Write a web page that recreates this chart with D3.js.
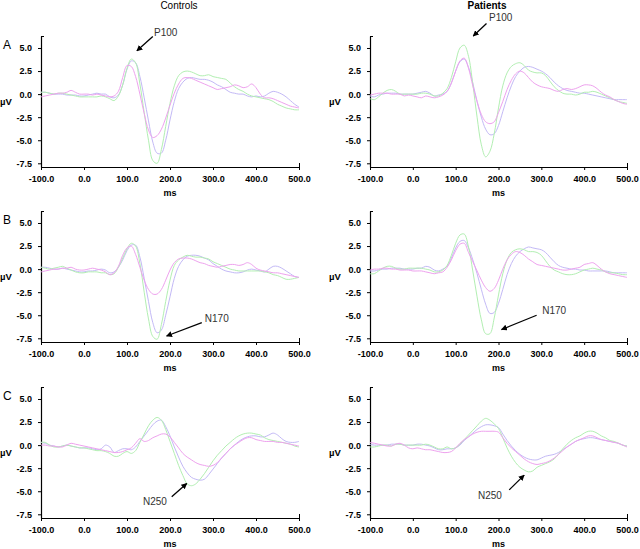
<!DOCTYPE html>
<html>
<head>
<meta charset="utf-8">
<script src="https://cdnjs.cloudflare.com/ajax/libs/d3/7.8.5/d3.min.js"></script>
<style>
  body { margin: 0; background: #fff; }
  svg { display: block; font-family: "Liberation Sans", Arial, sans-serif; }
  .tick text { font-size: 9px; font-weight: bold; fill: #000; }
  .domain, .tick line { stroke: #000; }
</style>
</head>
<body>
<script>
var width = 640;
var height = 549;

// time base (ms), one sample every 10 ms
var times = [-100,-90,-80,-70,-60,-50,-40,-30,-20,-10,
  0,10,20,30,40,50,60,70,80,90,
  100,110,120,130,140,150,160,170,180,190,
  200,210,220,230,240,250,260,270,280,290,
  300,310,320,330,340,350,360,370,380,390,
  400,410,420,430,440,450,460,470,480,490,
  500];

var xTicks = [-100, 0, 100, 200, 300, 400, 500];
var yTicks = [-7.5, -5, -2.5, 0, 2.5, 5];
var columnTitles = ['Controls', 'Patients'];
var rowLetters = ['A', 'B', 'C'];
var components = ['P100', 'N170', 'N250'];

// ---- row A (P100) ----
var ctlA_green = [0.2,0.2,0.1,0.0,0.1,0.1,0.0,-0.1,-0.2,-0.3, -0.3,-0.3,-0.3,-0.3,-0.2,-0.3,-0.5,-0.7,-0.2,1.0,
  2.8,3.8,3.4,1.1,-2.0,-5.0,-7.2,-7.5,-6.0,-3.5, -1.0,0.9,2.0,2.4,2.5,2.4,2.2,2.0,2.0,2.1,
  1.9,1.8,1.7,1.6,1.2,0.8,0.5,0.3,0.0,-0.2, -0.3,-0.4,-0.5,-0.6,-0.8,-1.1,-1.3,-1.5,-1.6,-1.7, -1.7];
var ctlA_violet = [0.2,0.2,0.1,0.0,0.0,0.0,-0.1,-0.1,-0.1,-0.2, -0.2,-0.1,0.0,0.1,0.0,0.0,-0.3,-0.4,-0.1,1.0,
  2.7,3.6,3.4,1.9,-0.4,-2.9,-5.2,-6.4,-6.4,-5.0, -2.8,-0.8,0.6,1.3,1.7,1.8,1.7,1.6,1.6,1.5,
  1.3,1.0,0.8,0.5,0.2,0.1,0.0,0.0,-0.2,-0.3, -0.2,-0.3,-0.2,0.1,0.3,0.2,0.0,-0.3,-0.7,-1.1, -1.4];
var ctlA_magenta = [-0.3,-0.2,-0.1,0.0,0.1,0.1,0.2,0.4,0.2,0.0, 0.0,0.0,-0.1,0.0,-0.1,-0.2,-0.3,-0.2,0.3,1.8,
  3.1,3.0,1.9,0.0,-2.1,-3.9,-4.7,-4.5,-3.8,-2.6, -1.2,0.1,1.1,1.7,1.8,1.7,1.5,1.3,1.1,0.9,
  0.7,0.5,0.6,0.7,0.8,1.0,0.9,0.7,0.8,1.1, 0.7,0.0,-0.4,-0.4,-0.5,-0.7,-0.9,-1.1,-1.3,-1.4, -1.5];

var patA_green = [-0.5,-0.6,-0.3,0.1,0.4,0.5,0.3,0.0,0.0,0.0, 0.0,0.0,0.1,0.1,0.0,-0.2,-0.2,0.1,0.6,1.8,
  3.5,5.0,5.3,4.1,1.1,-2.5,-5.5,-6.8,-6.2,-4.3, -1.5,0.9,2.3,3.0,3.3,3.4,3.1,2.6,2.4,2.3,
  2.3,2.0,1.4,0.8,0.4,0.1,0.0,0.0,-0.1,0.0, 0.2,0.2,0.3,0.2,0.0,-0.2,-0.4,-0.6,-0.8,-0.9, -1.0];
var patA_violet = [-0.2,-0.3,-0.1,0.0,0.1,0.1,0.1,0.0,0.0,0.0, 0.0,0.1,0.2,0.3,0.1,-0.2,-0.1,0.0,0.3,1.2,
  2.5,3.5,3.8,2.9,1.2,-0.8,-2.5,-3.8,-4.4,-4.3, -3.4,-1.9,-0.4,0.9,1.9,2.5,2.9,3.0,2.9,2.7,
  2.5,2.2,1.8,1.3,0.9,0.6,0.4,0.3,0.2,0.1, 0.1,0.0,-0.1,-0.2,-0.3,-0.4,-0.5,-0.6,-0.6,-0.6, -0.6];
var patA_magenta = [-0.1,0.0,0.1,0.1,0.1,0.0,0.0,0.0,-0.2,-0.1, -0.2,-0.3,-0.4,-0.2,-0.3,-0.4,-0.3,-0.1,0.3,1.2,
  2.5,3.6,3.9,2.8,0.9,-0.8,-2.2,-3.0,-3.2,-3.0, -2.0,-0.8,0.5,1.5,2.2,2.5,2.3,1.8,1.3,1.0,
  0.8,0.7,0.6,0.4,0.3,0.5,0.6,0.5,0.6,0.8, 1.0,1.0,0.9,0.6,0.2,-0.1,-0.3,-0.6,-0.8,-1.0, -1.1];

// ---- row B (N170) ----
var ctlB_green = [0.2,0.1,0.0,0.1,0.2,0.3,0.1,-0.1,-0.3,-0.4, -0.4,-0.3,-0.3,-0.3,-0.4,-0.4,-0.6,-0.5,0.2,1.2,
  2.2,2.8,2.5,0.6,-2.5,-5.4,-7.3,-7.6,-6.0,-3.5, -1.2,0.4,1.0,1.3,1.5,1.4,1.3,1.3,1.2,1.1,
  0.8,0.6,0.4,0.2,0.0,-0.1,-0.2,-0.2,-0.2,-0.2, -0.2,-0.2,-0.3,-0.4,-0.6,-0.7,-0.9,-1.1,-1.1,-1.0, -0.9];
var ctlB_violet = [0.2,0.2,0.1,0.0,0.0,0.1,0.0,-0.1,-0.2,-0.3, -0.3,-0.2,-0.2,-0.1,0.0,-0.1,-0.4,-0.3,0.2,1.0,
  2.0,2.6,2.6,1.3,-1.0,-3.5,-5.8,-6.9,-6.6,-5.0, -3.0,-1.0,0.3,1.0,1.4,1.5,1.5,1.4,1.2,1.0,
  0.6,0.3,0.0,-0.2,-0.3,-0.4,-0.4,-0.3,-0.1,0.0, -0.1,-0.2,-0.3,0.0,0.3,0.3,0.1,-0.2,-0.5,-0.8, -0.9];
var ctlB_magenta = [-0.3,-0.2,-0.1,0.0,0.0,0.1,0.1,0.2,0.0,-0.1, -0.1,0.0,0.1,0.0,-0.1,-0.3,-0.6,-0.4,0.3,1.5,
  2.3,2.5,1.6,0.2,-1.2,-2.2,-2.7,-2.7,-2.2,-1.2, -0.1,0.7,1.1,1.2,1.2,1.1,0.9,0.7,0.6,0.4,
  0.3,0.2,0.3,0.4,0.5,0.5,0.4,0.5,0.7,0.5, 0.1,-0.1,-0.2,-0.3,-0.4,-0.4,-0.5,-0.6,-0.7,-0.8, -0.9];

var patB_green = [-0.5,-0.5,-0.2,0.1,0.3,0.3,0.1,0.0,0.0,0.1, 0.1,0.1,0.1,0.0,-0.1,-0.3,-0.3,-0.1,0.4,1.5,
  2.8,3.7,3.8,2.4,-0.2,-3.0,-5.5,-7.0,-7.0,-5.3, -2.8,-0.5,1.0,1.8,2.1,2.2,2.1,1.9,1.9,1.8,
  1.5,0.9,0.3,-0.1,-0.3,-0.5,-0.6,-0.6,-0.5,-0.3, -0.1,0.0,0.1,0.0,-0.1,-0.3,-0.4,-0.4,-0.5,-0.6, -0.6];
var patB_violet = [-0.2,-0.2,-0.1,0.0,0.0,0.1,0.1,0.1,0.0,0.0, 0.0,0.1,0.1,0.3,0.2,-0.1,-0.2,0.0,0.3,1.2,
  2.3,3.0,3.1,2.3,1.0,-0.5,-2.2,-3.8,-4.8,-4.7, -3.7,-2.2,-0.6,0.6,1.4,1.9,2.2,2.4,2.3,2.2,
  2.1,1.8,1.3,0.8,0.4,0.2,0.1,0.0,0.0,-0.1, -0.1,-0.2,-0.2,-0.2,-0.2,-0.2,-0.3,-0.4,-0.4,-0.4, -0.4];
var patB_magenta = [-0.1,0.0,0.0,0.1,0.1,0.0,0.0,-0.1,-0.1,-0.1, -0.2,-0.2,-0.2,-0.3,-0.4,-0.5,-0.4,-0.3,0.2,1.0,
  2.0,2.7,2.8,1.8,0.8,-0.2,-1.2,-2.0,-2.4,-2.1, -1.2,0.0,1.0,1.6,1.9,1.8,1.5,1.1,0.8,0.5,
  0.4,0.3,0.2,0.1,0.0,-0.1,-0.1,0.0,0.1,0.2, 0.5,0.6,0.7,0.4,0.0,-0.3,-0.5,-0.6,-0.7,-0.8, -0.9];

// ---- row C (N250) ----
var ctlC_green = [0.3,0.3,0.0,-0.2,-0.2,-0.1,0.0,-0.1,-0.2,-0.3, -0.3,-0.4,-0.5,-0.6,-0.6,-0.7,-0.9,-1.2,-1.2,-0.9,
  -0.7,-0.9,-0.6,0.3,1.2,2.1,2.7,3.0,2.7,1.7, 0.4,-0.9,-2.2,-3.3,-4.2,-4.4,-4.2,-3.7,-3.1,-2.4,
  -1.7,-1.1,-0.6,-0.1,0.3,0.7,1.0,1.2,1.3,1.3, 1.2,1.1,0.8,0.6,0.5,0.4,0.3,0.2,0.1,-0.1, -0.2];
var ctlC_violet = [0.3,0.2,0.0,-0.1,-0.2,-0.1,0.0,-0.1,-0.2,-0.3, -0.3,-0.3,-0.4,-0.5,-0.4,0.0,-0.2,-0.8,-0.6,-0.4,
  -0.4,-0.5,-0.2,0.4,1.0,1.6,2.2,2.6,2.7,2.0, 1.0,-0.2,-1.3,-2.3,-3.0,-3.5,-3.7,-3.8,-3.7,-3.2,
  -2.6,-2.0,-1.4,-0.9,-0.4,0.0,0.4,0.7,0.9,1.0, 1.0,0.9,0.9,1.1,1.3,1.1,0.7,0.4,0.3,0.3, 0.4];
var ctlC_magenta = [0.0,0.0,-0.1,-0.1,-0.2,-0.2,0.0,0.2,0.1,0.0, -0.1,-0.2,-0.3,-0.4,-0.5,-0.6,-0.7,-0.8,-0.8,-0.7,
  -0.5,-0.3,0.2,0.7,0.4,0.5,0.8,1.0,1.2,1.2, 0.9,0.3,-0.3,-0.9,-1.3,-1.6,-1.9,-2.1,-2.2,-2.3,
  -2.2,-1.9,-1.4,-0.9,-0.4,0.0,0.3,0.6,0.8,0.8, 0.6,0.5,0.4,0.4,0.4,0.3,0.3,0.2,0.1,0.0, -0.1];

var patC_green = [-0.2,-0.2,-0.1,0.0,0.0,-0.1,0.1,0.1,0.0,0.0, 0.0,0.0,0.0,0.1,0.0,-0.2,-0.4,-0.4,-0.2,-0.4,
  -0.3,0.1,0.6,1.1,1.6,2.1,2.6,2.9,2.7,2.3, 1.8,0.8,-0.3,-1.2,-1.9,-2.4,-2.7,-2.9,-2.8,-2.4,
  -2.2,-2.0,-1.8,-1.5,-1.0,-0.4,0.1,0.5,0.8,1.0, 1.3,1.5,1.5,1.3,1.0,0.8,0.5,0.4,0.2,0.0, -0.1];
var patC_violet = [0.1,0.0,0.0,0.0,0.0,0.1,0.1,0.1,0.0,0.0, 0.0,0.1,0.1,0.0,-0.1,-0.3,-0.5,-0.5,-0.4,-0.4,
  -0.3,0.0,0.5,0.9,1.3,1.7,2.0,2.2,2.2,2.1, 1.9,1.2,0.5,-0.1,-0.6,-1.0,-1.3,-1.5,-1.6,-1.6,
  -1.4,-1.2,-1.1,-1.0,-0.8,-0.5,-0.2,0.1,0.4,0.6, 0.7,0.8,0.8,0.7,0.6,0.5,0.4,0.3,0.2,0.0, -0.1];
var patC_magenta = [0.3,0.2,0.1,0.0,-0.1,-0.1,0.1,0.2,0.0,-0.3, -0.4,-0.3,-0.4,-0.5,-0.5,-0.6,-0.7,-0.8,-0.8,-0.7,
  -0.3,0.2,0.6,0.9,1.2,1.4,1.5,1.5,1.5,1.5, 1.4,0.8,0.2,-0.3,-0.7,-1.1,-1.5,-1.8,-2.0,-2.1,
  -2.0,-1.9,-1.7,-1.4,-1.0,-0.6,-0.2,0.1,0.4,0.6, 0.8,1.0,1.0,0.8,0.6,0.5,0.4,0.3,0.2,0.0, -0.2];

var seriesColors = ['#c3b9f6', '#b2efb2', '#eea2ee'];   // violet, green, magenta

// panel layout: column x range, row top; annotation in data units (ms, uV)
var colRange = [[41, 299], [370, 627]];
var rowTop = [36, 211, 387];
var panelH = 131;

var panels = [
  { row: 0, col: 0, lines: [ctlA_violet, ctlA_green, ctlA_magenta], txt: [163, 6.3], arrow: [160, 6.25, 123, 4.7] },
  { row: 0, col: 1, lines: [patA_violet, patA_green, patA_magenta], txt: [178, 7.9], arrow: [172, 7.65, 141, 6.3] },
  { row: 1, col: 0, lines: [ctlB_violet, ctlB_green, ctlB_magenta], txt: [281, -5.75], arrow: [274, -5.8, 192, -7.25] },
  { row: 1, col: 1, lines: [patB_violet, patB_green, patB_magenta], txt: [302, -4.9], arrow: [289, -5.0, 207, -6.55] },
  { row: 2, col: 0, lines: [ctlC_violet, ctlC_green, ctlC_magenta], txt: [137, -6.45], arrow: [204, -5.6, 239, -4.15] },
  { row: 2, col: 1, lines: [patC_violet, patC_green, patC_magenta], txt: [152, -5.8], arrow: [225, -4.85, 260, -3.25] }
];

var svg = d3.select('body').append('svg')
  .attr('width', width)
  .attr('height', height);

svg.append('defs').append('marker')
  .attr('id', 'head')
  .attr('viewBox', '0 0 10 10')
  .attr('refX', 9).attr('refY', 5)
  .attr('markerWidth', 6).attr('markerHeight', 6)
  .attr('markerUnits', 'userSpaceOnUse')
  .attr('orient', 'auto')
  .append('path')
  .attr('d', 'M0,0L10,5L0,10z')
  .attr('fill', '#000');

// column titles
svg.selectAll('.coltitle')
  .data(columnTitles)
  .enter().append('text')
  .attr('class', 'coltitle')
  .attr('x', function(d, i) { return i == 0 ? 179 : 487; })
  .attr('y', 9)
  .attr('text-anchor', 'middle')
  .attr('font-size', '10px')
  .attr('font-weight', function(d, i) { return i == 0 ? 'normal' : 'bold'; })
  .text(function(d) { return d; });

var fmt = function(d) { return d.toFixed(1); };

panels.forEach(function(p) {
  var top = rowTop[p.row];
  var bottom = top + panelH;
  var x = d3.scaleLinear().domain([-100, 500]).range(colRange[p.col]);
  var y = d3.scaleLinear().domain([-7.9, 6.3]).range([bottom, top]);
  var x0 = colRange[p.col][0];

  var g = svg.append('g');

  // y axis
  var ya = g.append('g')
    .attr('transform', 'translate(' + x0 + ',0)')
    .call(d3.axisLeft(y).tickValues(yTicks).tickSize(3).tickSizeOuter(0).tickPadding(6).tickFormat(fmt));
  ya.append('line')
    .attr('x1', 0).attr('x2', 3)
    .attr('y1', top + 0.5).attr('y2', top + 0.5)
    .attr('stroke', '#000');

  // x axis
  var xa = g.append('g')
    .attr('transform', 'translate(0,' + bottom + ')')
    .call(d3.axisBottom(x).tickValues(xTicks).tickSize(3).tickSizeOuter(0).tickPadding(6).tickFormat(fmt));
  xa.append('line')
    .attr('x1', x(500) + 0.5).attr('x2', x(500) + 0.5)
    .attr('y1', -4).attr('y2', 0)
    .attr('stroke', '#000');
  ya.select('.domain').attr('stroke-width', 1.2);
  xa.select('.domain').attr('stroke-width', 1.2);

  // axis titles
  g.append('text')
    .attr('x', (colRange[p.col][0] + colRange[p.col][1]) / 2)
    .attr('y', bottom + 29)
    .attr('text-anchor', 'middle')
    .attr('font-size', '9px')
    .attr('font-weight', 'bold')
    .text('ms');
  g.append('text')
    .attr('x', x0 - 35)
    .attr('y', y(0) + 11)
    .attr('text-anchor', 'middle')
    .attr('font-size', '9.5px')
    .attr('font-weight', 'bold')
    .text('\u00b5V');

  if (p.col == 0) {
    g.append('text')
      .attr('x', 3)
      .attr('y', y(5) + 1)
      .attr('font-size', '12px')
      .text(rowLetters[p.row]);
  }

  // waveforms
  var line = d3.line()
    .x(function(d, i) { return x(times[i]); })
    .y(function(d) { return y(d); })
    .curve(d3.curveCatmullRom.alpha(0.5));

  g.selectAll('.wave')
    .data(p.lines)
    .enter().append('path')
    .attr('class', 'wave')
    .attr('d', line)
    .attr('fill', 'none')
    .attr('stroke', function(d, i) { return seriesColors[i]; })
    .attr('stroke-width', 1);

  // component annotation
  g.append('text')
    .attr('x', x(p.txt[0]))
    .attr('y', y(p.txt[1]))
    .attr('font-size', '10px')
    .attr('fill', '#333')
    .text(components[p.row]);
  g.append('line')
    .attr('x1', x(p.arrow[0])).attr('y1', y(p.arrow[1]))
    .attr('x2', x(p.arrow[2])).attr('y2', y(p.arrow[3]))
    .attr('stroke', '#000')
    .attr('stroke-width', 1.3)
    .attr('marker-end', 'url(#head)');
});
</script>
</body>
</html>
